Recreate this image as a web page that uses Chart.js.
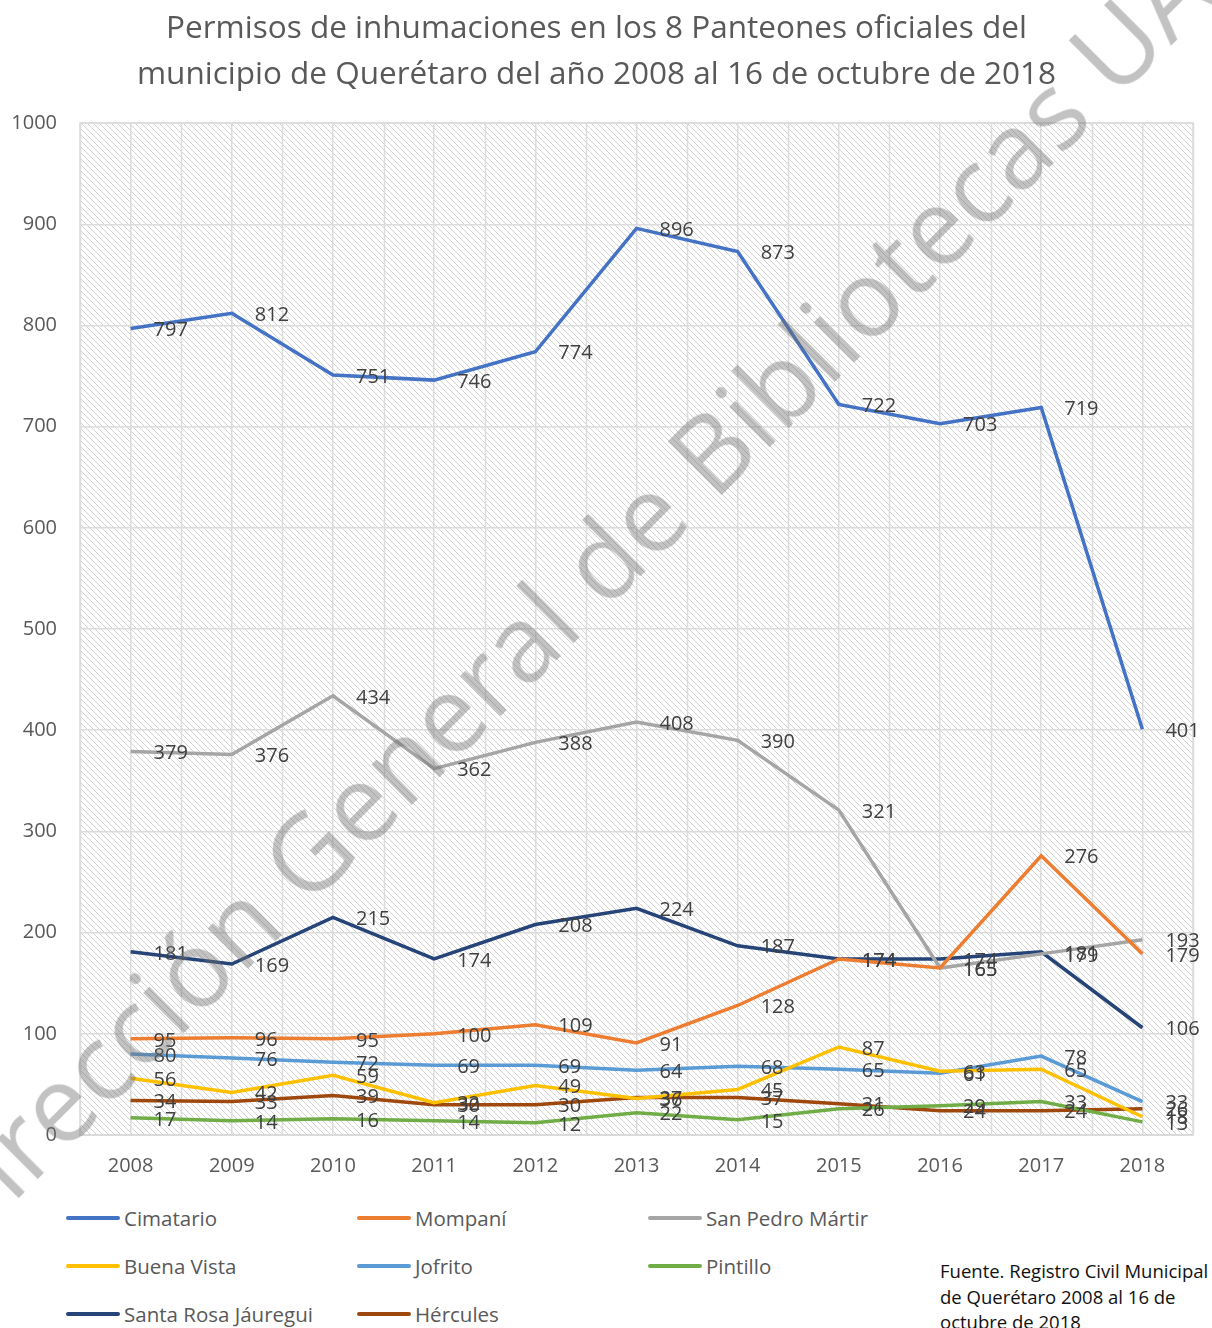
<!DOCTYPE html>
<html>
<head>
<meta charset="utf-8">
<script src="https://cdn.jsdelivr.net/npm/chart.js@4.4.1/dist/chart.umd.min.js"></script>
<style>
  body { margin: 0; background: #fff; width: 1212px; height: 1328px; overflow: hidden; position: relative; font-family: "Open Sans", sans-serif; }
  #wrap { position: absolute; left: 0; top: 0; width: 1212px; height: 1190px; }
  .leyenda { position: absolute; font-size: 20.5px; color: #595959; display: flex; align-items: center; white-space: nowrap; }
  .leyenda span.linea { display: inline-block; width: 54px; height: 4px; border-radius: 2px; margin-right: 4px; }
  #fuente { position: absolute; left: 940px; top: 1258px; font-size: 18.5px; line-height: 25.5px; color: #111; white-space: nowrap; }
  #marca { position: absolute; left: 588px; top: 570px; font-size: 107px; color: rgba(110,110,110,0.42); white-space: nowrap;
           transform: translate(-50%, -50%) rotate(-45deg); pointer-events: none; line-height: 1; }
</style>
</head>
<body>
<div id="wrap"><canvas id="grafica"></canvas></div>
<div id="leyendas"></div>
<div id="fuente">Fuente. Registro Civil Municipal<br>de Querétaro 2008 al 16 de<br>octubre de 2018</div>
<div id="marca">Dirección General de Bibliotecas UAQ</div>
<script>
// Datos del gráfico
var anios = ['2008', '2009', '2010', '2011', '2012', '2013', '2014', '2015', '2016', '2017', '2018'];

var cimatario   = [797, 812, 751, 746, 774, 896, 873, 722, 703, 719, 401];
var mompani     = [95, 96, 95, 100, 109, 91, 128, 174, 165, 276, 179];
var sanPedro    = [379, 376, 434, 362, 388, 408, 390, 321, 165, 179, 193];
var buenaVista  = [56, 42, 59, 32, 49, 36, 45, 87, 63, 65, 18];
var jofrito     = [80, 76, 72, 69, 69, 64, 68, 65, 61, 78, 33];
var pintillo    = [17, 14, 16, 14, 12, 22, 15, 26, 29, 33, 13];
var santaRosa   = [181, 169, 215, 174, 208, 224, 187, 174, 174, 181, 106];
var hercules    = [34, 33, 39, 30, 30, 37, 37, 31, 24, 24, 26];

var nombres = ['Cimatario', 'Mompaní', 'San Pedro Mártir', 'Buena Vista', 'Jofrito', 'Pintillo', 'Santa Rosa Jáuregui', 'Hércules'];
var series  = [cimatario, mompani, sanPedro, buenaVista, jofrito, pintillo, santaRosa, hercules];
var colores = ['#4472C4', '#ED7D31', '#A5A5A5', '#FFC000', '#5B9BD5', '#70AD47', '#264478', '#9E480E'];

var ticksY = [0, 100, 200, 300, 400, 500, 600, 700, 800, 900, 1000];

var fuente = '"Open Sans", sans-serif';

// Patrón de rayas diagonales para el fondo
function crearPatron(ctx) {
    var c = document.createElement('canvas');
    c.width = 6; c.height = 6;
    var p = c.getContext('2d');
    p.fillStyle = '#fff';
    p.fillRect(0, 0, 6, 6);
    p.fillStyle = '#d2d2d2';
    for (var i = 0; i < 6; i++) {
        p.fillRect(i, i, 1, 1);
    }
    return ctx.createPattern(c, 'repeat');
}

var fondoPlugin = {
    id: 'fondo',
    beforeDraw: function (chart) {
        var a = chart.chartArea, ctx = chart.ctx;
        ctx.save();
        ctx.fillStyle = crearPatron(ctx);
        ctx.fillRect(a.left, a.top, a.right - a.left, a.bottom - a.top);
        ctx.restore();
    },
    beforeDatasetsDraw: function (chart) {
        // líneas verticales en los límites de cada categoría
        var a = chart.chartArea, ctx = chart.ctx, x = chart.scales.x;
        var mitad = (x.getPixelForValue(1) - x.getPixelForValue(0)) / 2;
        ctx.save();
        ctx.strokeStyle = '#dcdcdc';
        ctx.lineWidth = 1.5;
        for (var i = 0; i <= anios.length; i++) {
            var px = Math.round(x.getPixelForValue(i) - mitad) + 0.5;
            ctx.beginPath();
            ctx.moveTo(px, a.top);
            ctx.lineTo(px, a.bottom);
            ctx.stroke();
        }
        ctx.strokeRect(a.left, a.top, a.right - a.left, a.bottom - a.top);
        ctx.restore();
    }
};

// Etiquetas de valores a la derecha de cada punto
var etiquetasPlugin = {
    id: 'etiquetas',
    afterDatasetsDraw: function (chart) {
        var ctx = chart.ctx;
        ctx.save();
        ctx.font = '20px ' + fuente;
        ctx.fillStyle = '#404040';
        ctx.textAlign = 'left';
        ctx.textBaseline = 'middle';
        chart.data.datasets.forEach(function (ds, i) {
            chart.getDatasetMeta(i).data.forEach(function (pt, j) {
                ctx.fillText(ds.data[j], pt.x + 23, pt.y + 2);
            });
        });
        ctx.restore();
    }
};

var datasets = series.map(function (s, i) {
    return {
        label: nombres[i],
        data: s,
        borderColor: colores[i],
        backgroundColor: colores[i],
        borderWidth: 3.5,
        pointRadius: 0,
        tension: 0,
        fill: false
    };
});

var ctx = document.getElementById('grafica').getContext('2d');
var grafica = new Chart(ctx, {
    type: 'line',
    data: { labels: anios, datasets: datasets },
    plugins: [fondoPlugin, etiquetasPlugin],
    options: {
        responsive: true,
        maintainAspectRatio: false,
        animation: false,
        layout: { padding: { left: 0, right: 19, top: 0, bottom: 0 } },
        plugins: {
            legend: { display: false },
            tooltip: { enabled: false },
            title: {
                display: true,
                text: ['Permisos de inhumaciones en los 8 Panteones oficiales del',
                       'municipio de Querétaro del año 2008 al 16 de octubre de 2018'],
                color: '#595959',
                font: { family: fuente, size: 31.5, weight: 'normal', lineHeight: 1.43 },
                padding: { top: 7, bottom: 26 }
            }
        },
        scales: {
            x: {
                offset: true,
                grid: { color: '#dcdcdc', lineWidth: 1.5, drawTicks: false },
                border: { color: '#d0d0d0', width: 1.5 },
                ticks: { color: '#595959', font: { family: fuente, size: 20 }, padding: 19, maxRotation: 0 },
                afterFit: function (s) { s.height = 55; }
            },
            y: {
                min: 0,
                max: 1000,
                afterBuildTicks: function (s) { s.ticks = ticksY.map(function (v) { return { value: v }; }); },
                grid: { color: '#dcdcdc', lineWidth: 1.5, drawTicks: false },
                border: { display: false },
                ticks: {
                    color: '#595959', font: { family: fuente, size: 20 }, padding: 23,
                    callback: function (v) { return String(v); }
                },
                afterFit: function (s) { s.width = 80; }
            }
        }
    }
});

// Leyenda en tres columnas
var colX = [66, 357, 648];
var filaY = [1218, 1266, 1314];
var cont = document.getElementById('leyendas');
nombres.forEach(function (n, i) {
    var d = document.createElement('div');
    d.className = 'leyenda';
    d.style.left = colX[i % 3] + 'px';
    d.style.top = (filaY[Math.floor(i / 3)] - 14) + 'px';
    d.style.height = '28px';
    d.innerHTML = '<span class="linea" style="background:' + colores[i] + '"></span>' + n;
    cont.appendChild(d);
});
</script>
</body>
</html>
